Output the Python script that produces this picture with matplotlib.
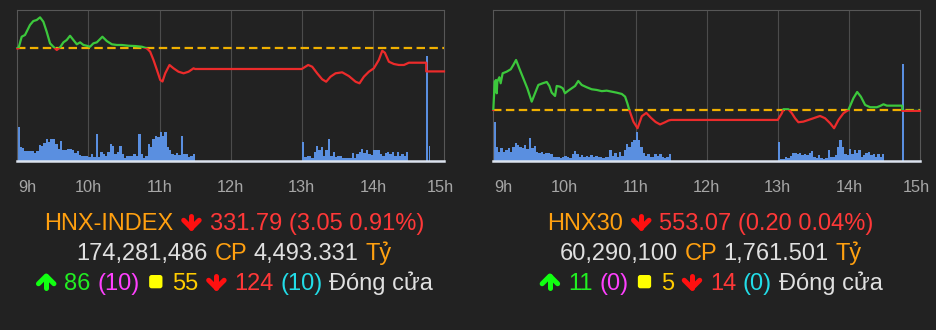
import matplotlib
matplotlib.use("Agg")
import matplotlib.pyplot as plt
import numpy as np
from matplotlib.patches import Rectangle, FancyBboxPatch
from matplotlib.lines import Line2D
from matplotlib.transforms import blended_transform_factory, IdentityTransform, offset_copy

# ---------------- data ----------------
hours = ["9h", "10h", "11h", "12h", "13h", "14h", "15h"]

# HNX-INDEX intraday (minutes after 9:00, index points)
hnx_t = [0, 1, 3.7, 6.5, 10.7, 13.5, 16.4, 19.2, 22.0, 24.8, 27.6, 30.4, 33.3, 36.1, 38.9, 41.7,
         44.5, 47.3, 50.2, 53.0, 55.8, 58.6, 61.4, 64.2, 67.1, 71.8, 75.5, 79.8, 84.0, 88.2, 93.8,
         99.5, 105.1, 109.3, 112.1, 114.9, 117.8, 120.6, 122.5, 124.8, 128.4, 131.8, 136.0, 140.3,
         144.5, 148.7, 150, 240, 245.4, 248.8, 253.0, 257.2, 260.6, 264.2, 268.5, 274.1, 279.7,
         285.4, 288.7, 292.4, 296.6, 300.8, 305.0, 307.9, 310.1, 313.5, 317.7, 321.9, 326.2, 330.4,
         345, 345, 360]
hnx_p = [334.84, 334.84, 336.37, 336.60, 337.92, 338.44, 338.58, 338.93, 338.35, 337.03, 335.50,
         335.05, 334.62, 334.97, 335.63, 335.94, 336.50, 335.94, 335.37, 335.63, 335.28, 335.18,
         335.05, 335.50, 335.63, 336.37, 335.80, 335.37, 335.28, 335.28, 335.18, 335.14, 335.05,
         334.84, 334.39, 333.30, 331.98, 330.66, 330.46, 331.54, 332.64, 332.20, 331.75, 331.54,
         331.75, 332.20, 332.11, 332.11, 332.64, 332.41, 331.54, 330.75, 330.43, 331.09, 331.54,
         331.67, 331.18, 330.43, 330.22, 331.09, 331.75, 332.20, 333.30, 334.52, 334.26, 333.07,
         332.77, 332.64, 332.64, 332.94, 332.94, 331.79, 331.79]
hnx_ref = 334.84
hnx_ylim = (320.0, 339.9)
# volume per 2-minute bin (relative units)
hnx_vol_am = [34, 14, 12.7, 10, 9.7, 9.7, 10, 8, 10, 16, 14.7, 17.7, 22, 19, 22, 22, 16.3, 12, 20,
              10.3, 10.3, 12, 12, 10.3, 7.7, 9.7, 5.3, 4.3, 4.3, 4.3, 3.7, 6.3, 3.7, 26.3, 3.7, 8.3,
              6.3, 4.3, 8.3, 16.3, 14.3, 7, 8.7, 14.3, 7, 2.7, 4.3, 4.3, 4.3, 6.3, 4.3, 26.3, 6.3,
              3, 4.3, 16.3, 13.7, 22, 24.3, 24, 28.7, 24.3, 28.7, 13.7, 11, 7, 5.3, 7.7, 5.3, 24.3,
              6.3, 6.3, 3.7, 4.3, 6.3]
hnx_vol_pm = [18.3, 3.7, 4.3, 4.3, 3, 8.7, 14.3, 10.3, 13.7, 4.3, 10.3, 22, 4.3, 8.7, 3.7, 4.3, 4.3,
              3, 3, 3, 3, 7.7, 3, 6.3, 8.7, 12, 7.7, 10.3, 6.3, 5.3, 10.3, 10.3, 10.3, 6.3, 4.3,
              7.7, 8.7, 7, 8.7, 4.3, 8.7, 4.3, 6.3, 4.3, 8.7]
hnx_vol_atc = [104.3, 14.3]

# HNX30 intraday
hnx30_t = [0, 1.2, 2.3, 2.9, 3.4, 5.1, 6.2, 7.9, 11.3, 14.7, 16.9, 19.2, 21.9, 25.3, 28.7, 32.4,
           35.2, 38.0, 41.7, 45.1, 47.3, 49.3, 52.1, 53.5, 56.3, 58.6, 60.5, 63.3, 66.2, 69.0, 71.7,
           74.6, 78.8, 83.0, 87.3, 91.5, 95.7, 99.9, 104.1, 108.4, 111.2, 113.1, 114.8, 118.2, 121.7,
           125.3, 129.1, 133.1, 136.9, 140.7, 144.5, 147.9, 150, 240, 243.4, 244.8, 249.0, 251.9,
           254.6, 257.4, 261.6, 265.9, 270.1, 275.7, 279.9, 284.2, 287.5, 291.2, 295.4, 299.6,
           303.8, 307.0, 310.1, 313.7, 318.0, 323.6, 326.4, 329.2, 332.0, 345, 345, 360]
hnx30_p = [553.27, 559.44, 559.81, 556.91, 559.44, 560.40, 559.09, 561.27, 561.62, 562.14, 563.08,
           564.17, 562.36, 560.18, 558.00, 555.08, 556.91, 558.72, 559.09, 559.37, 558.50, 557.04,
           556.32, 558.50, 558.35, 558.00, 556.91, 557.48, 558.00, 558.50, 559.59, 558.72, 558.22,
           557.78, 557.63, 557.37, 557.48, 557.26, 557.04, 556.76, 556.17, 554.73, 553.20, 550.72,
           549.28, 551.90, 552.62, 551.53, 550.65, 550.11, 550.54, 550.98, 551.09, 551.09, 552.55,
           553.42, 553.42, 552.55, 551.46, 550.59, 550.72, 551.09, 551.46, 551.96, 551.46, 550.37,
           549.28, 551.09, 552.55, 553.27, 555.82, 557.19, 556.17, 554.36, 553.86, 553.86, 554.14,
           554.51, 554.21, 554.21, 553.07, 553.07]
hnx30_ref = 553.27
hnx30_ylim = (542.2, 575.07)
hnx30_vol_am = [39, 14, 9, 12.3, 9, 10.7, 12.3, 9, 14, 18, 15.7, 14, 12.3, 15.7, 11.3, 22.3, 12.3,
                14.7, 9, 8, 9, 6.7, 8, 7.3, 6.7, 4, 3.3, 3.3, 2.7, 4, 4.7, 4, 2.7, 6.7, 10, 6.7, 4,
                6, 4, 4.7, 3.3, 5.3, 3.3, 4.7, 3.3, 4, 2.7, 4, 3.3, 10.7, 4.7, 8, 4, 9, 4.7, 10.7,
                16.7, 14, 19, 20.7, 29, 20.7, 14, 8, 4.7, 6.7, 3.3, 4, 6.7, 4.7, 6.7, 4, 2.7, 3.3,
                6.7]
hnx30_vol_pm = [19, 1.3, 2, 3.3, 2.7, 4.7, 7.3, 8, 6.7, 7.3, 5.3, 6.7, 5.7, 8, 10, 4, 2.3, 5.3, 2.7,
                2, 2.3, 10.7, 4, 3.3, 5.3, 14, 20.7, 14, 6.7, 5.3, 11.3, 6.7, 10.7, 7.3, 10.7, 3.3,
                5.3, 7.3, 8.7, 5.3, 6.7, 4, 6.7, 3.3, 6.7]
hnx30_vol_atc = [96.7]

# summary lines
hnx_name, hnx_close, hnx_chg, hnx_pct = "HNX-INDEX", 331.79, 3.05, 0.91
hnx_volume, hnx_value = 174281486, 4493.331
hnx_up, hnx_ceil, hnx_flat, hnx_down, hnx_floor = 86, 10, 55, 124, 10
hnx30_name, hnx30_close, hnx30_chg, hnx30_pct = "HNX30", 553.07, 0.20, 0.04
hnx30_volume, hnx30_value = 60290100, 1761.501
hnx30_up, hnx30_ceil, hnx30_flat, hnx30_down, hnx30_floor = 11, 0, 5, 14, 0
status = "Đóng cửa"

# ---------------- style ----------------
W, H = 936, 330
BG = "#222222"
GREEN_LINE = "#3cc83c"
RED_LINE = "#ec2b2b"
REF_COL = "#f0b000"
VOL_COL = "#5a8fe0"
ORANGE = "#ffa010"
RED_TXT = "#ff3838"
RED_ARR = "#ff1010"
LIGHT = "#e0e0e0"
GREEN_TXT = "#22ee22"
GREEN_ARR = "#11ff11"
MAGENTA = "#ff40ff"
YELLOW_BOX = "#ffff00"
YELLOW_TXT = "#ffcc00"
CYAN = "#22dde8"
TEXT_FONT = ["Liberation Sans", "DejaVu Sans"]
ROW_SIZE = 17

fig = plt.figure(figsize=(W / 100, H / 100), dpi=100, facecolor=BG)


def px_rect(x0, y0, x1, y1):
    return [x0 / W, 1 - y1 / H, (x1 - x0) / W, (y1 - y0) / H]


def draw_panel(rect, t, p, ref, ylim, vam, vpm, vatc):
    axv = fig.add_axes(px_rect(*rect))
    axv.set_facecolor(BG)
    axv.set_xlim(0, 360)
    axv.set_ylim(0, 150.7)
    for h in range(1, 6):
        axv.axvline(h * 60, color="#4c4c4c", lw=0.8, zorder=0.5)
    axv.bar(np.arange(len(vam)) * 2, vam, width=2, align="edge", color=VOL_COL, lw=0, zorder=1)
    axv.bar(240 + np.arange(len(vpm)) * 2, vpm, width=2, align="edge", color=VOL_COL, lw=0, zorder=1)
    axv.bar(345 + np.arange(len(vatc)) * 2, vatc, width=1.6, align="edge", color=VOL_COL, lw=0, zorder=1)
    for s in ["top", "left", "right"]:
        axv.spines[s].set_color("#575757")
        axv.spines[s].set_linewidth(0.8)
    axv.spines["bottom"].set_color("#dce3ee")
    axv.spines["bottom"].set_linewidth(1.8)
    axv.set_xticks([])
    axv.set_yticks([])

    axp = axv.twinx()
    axp.set_ylim(*ylim)
    axp.set_yticks([])
    for s in axp.spines.values():
        s.set_visible(False)
    axp.axhline(ref, color=REF_COL, lw=1.6, dashes=(3.8, 2.0), zorder=1)
    up_clip = Rectangle((-10, ref), 400, 1000, transform=axp.transData)
    dn_clip = Rectangle((-10, ref - 1000), 400, 1000, transform=axp.transData)
    lg, = axp.plot(t, p, color=GREEN_LINE, lw=1.6, zorder=3, solid_joinstyle="round")
    lg.set_clip_path(up_clip)
    lr, = axp.plot(t, p, color=RED_LINE, lw=1.6, zorder=3, solid_joinstyle="round")
    lr.set_clip_path(dn_clip)

    # hour labels
    tr = blended_transform_factory(axv.transData, fig.transFigure)
    ybase = 1 - 191.7 / H
    for i, lab in enumerate(hours):
        if i == 0:
            axv.text(0, ybase, lab, transform=offset_copy(tr, fig=fig, x=1, units="dots"),
                     ha="left", va="baseline", fontsize=11.8, color="#a6a6a6", family=TEXT_FONT)
        elif i == len(hours) - 1:
            axv.text(i * 60, ybase, lab, transform=offset_copy(tr, fig=fig, x=-4, units="dots"),
                     ha="center", va="baseline", fontsize=11.8, color="#a6a6a6", family=TEXT_FONT)
        else:
            axv.text(i * 60, ybase, lab, transform=tr, ha="center", va="baseline",
                     fontsize=11.8, color="#a6a6a6", family=TEXT_FONT)
    return axv, axp


draw_panel((17.3, 10, 444, 160.7), hnx_t, hnx_p, hnx_ref, hnx_ylim, hnx_vol_am, hnx_vol_pm, hnx_vol_atc)
draw_panel((493.3, 10, 920, 160.7), hnx30_t, hnx30_p, hnx30_ref, hnx30_ylim, hnx30_vol_am, hnx30_vol_pm, hnx30_vol_atc)

renderer = fig.canvas.get_renderer()


def text_width(s, fam, weight="normal"):
    t = fig.text(0, 0, s, fontsize=ROW_SIZE, family=fam, weight=weight)
    w = t.get_window_extent(renderer).width
    t.remove()
    return w


SPACE = text_width("x x", TEXT_FONT) - text_width("xx", TEXT_FONT)
BOX = 13.3
BOX_MARGIN = 3.0
ARR_W = 20.5
ARR_H = 17.0
ARR_STROKE = 5.0
ARR_MARGIN = 1.2


def draw_arrow(xc, yb, color, up):
    sw = ARR_STROKE
    y0 = yb - 0.5 + sw / 2
    y1 = yb - 0.5 + ARR_H - sw / 2
    half = (ARR_W - sw) / 2
    if up:
        tip = y1
        arm = y1 - half
    else:
        tip = y0
        arm = y0 + half
    kw = dict(color=color, lw=sw * 0.72, solid_capstyle="round", solid_joinstyle="round",
              transform=IdentityTransform())
    fig.add_artist(Line2D([xc, xc], [y0, y1], **kw))
    fig.add_artist(Line2D([xc - half, xc, xc + half], [arm, tip, arm], **kw))


def draw_row(cx, base, pieces):
    items = []
    for pc in pieces:
        kind = pc[2] if len(pc) > 2 else "text"
        if kind == "box":
            items.append((kind, pc[1], BOX + 2 * BOX_MARGIN, None))
        elif kind in ("up", "down"):
            items.append((kind, pc[1], ARR_W + 2 * ARR_MARGIN, None))
        else:
            t = fig.text(0, 0, pc[0], color=pc[1], fontsize=ROW_SIZE, family=TEXT_FONT,
                         ha="left", va="baseline", transform=IdentityTransform())
            w = t.get_window_extent(renderer).width
            items.append(("text", pc[1], w, t))
    total = sum(it[2] for it in items) + SPACE * (len(items) - 1)
    x = cx - total / 2
    yb = H - base
    for kind, color, w, t in items:
        if kind == "box":
            fig.add_artist(FancyBboxPatch((x + BOX_MARGIN, yb + 1.7), BOX, BOX,
                                          boxstyle="round,pad=0,rounding_size=2.5",
                                          fc=color, ec="none", transform=IdentityTransform()))
        elif kind in ("up", "down"):
            draw_arrow(x + w / 2, yb, color, kind == "up")
        else:
            t.set_position((x, yb))
        x += w + SPACE


def summary(cx, name, close, chg, pct, vol, val, up, ceil, flat, down, floor):
    draw_row(cx, 230, [(name, ORANGE), ("", RED_ARR, "down"),
                       (f"{close:.2f} ({chg:.2f} {pct:.2f}%)", RED_TXT)])
    draw_row(cx, 260, [(f"{vol:,}", LIGHT), ("CP", ORANGE), (f"{val:,.3f}", LIGHT), ("Tỷ", ORANGE)])
    draw_row(cx, 290, [("", GREEN_ARR, "up"), (f"{up}", GREEN_TXT), (f"({ceil})", MAGENTA),
                       (None, YELLOW_BOX, "box"), (f"{flat}", YELLOW_TXT), ("", RED_ARR, "down"),
                       (f"{down}", RED_TXT), (f"({floor})", CYAN), (status, LIGHT)])


summary(234, hnx_name, hnx_close, hnx_chg, hnx_pct, hnx_volume, hnx_value,
        hnx_up, hnx_ceil, hnx_flat, hnx_down, hnx_floor)
summary(710.5, hnx30_name, hnx30_close, hnx30_chg, hnx30_pct, hnx30_volume, hnx30_value,
        hnx30_up, hnx30_ceil, hnx30_flat, hnx30_down, hnx30_floor)

fig.savefig("out.png", dpi=100, facecolor=BG)
